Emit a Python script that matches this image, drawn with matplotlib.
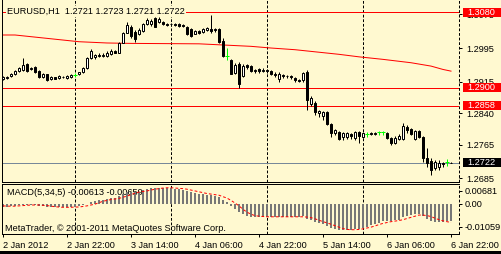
import matplotlib
matplotlib.use("Agg")
import matplotlib.pyplot as plt
import matplotlib.transforms as mtransforms
from matplotlib.patches import Rectangle

plt.rcParams["font.family"] = ["Liberation Sans", "DejaVu Sans"]
plt.rcParams["lines.scale_dashes"] = False

BG = "#FFF9D0"
FS = 6.6

# EURUSD H1 bars, 2 Jan 2012 06:00 .. 6 Jan 22:00
opens = [1.2921, 1.2924, 1.2928, 1.2933, 1.2940, 1.2943, 1.2957, 1.2945, 1.2950, 1.2940,
         1.2926, 1.2932, 1.2921, 1.2926, 1.2924, 1.2927, 1.2924, 1.2925, 1.2931, 1.2932,
         1.2937, 1.2947, 1.2971, 1.2974, 1.2976, 1.2977, 1.2976, 1.2981, 1.2988, 1.2983,
         1.3007, 1.3031, 1.3045, 1.3033, 1.3028, 1.3036, 1.3052, 1.3052, 1.3066, 1.3057,
         1.3058, 1.3052, 1.3051, 1.3052, 1.3051, 1.3050, 1.3046, 1.3040, 1.3029, 1.3035,
         1.3033, 1.3038, 1.3041, 1.3038, 1.3040, 1.3012, 1.2976, 1.2967, 1.2935, 1.2957,
         1.2928, 1.2955, 1.2952, 1.2940, 1.2945, 1.2941, 1.2943, 1.2940, 1.2933, 1.2921,
         1.2931, 1.2928, 1.2929, 1.2924, 1.2919, 1.2919, 1.2938, 1.2862, 1.2864, 1.2840,
         1.2833, 1.2843, 1.2814, 1.2793, 1.2795, 1.2783, 1.2783, 1.2791, 1.2781, 1.2795,
         1.2783, 1.2791, 1.2793, 1.2791, 1.2794, 1.2794, 1.2793, 1.2781, 1.2769, 1.2779,
         1.2779, 1.2807, 1.2802, 1.2779, 1.2798, 1.2783, 1.2733, 1.2726, 1.2709, 1.2712,
         1.2721, 1.2724, 1.2721]
highs = [1.2928, 1.2928, 1.2936, 1.2943, 1.2950, 1.2971, 1.2959, 1.2950, 1.2952, 1.2943,
         1.2936, 1.2933, 1.2928, 1.2927, 1.2931, 1.2929, 1.2931, 1.2933, 1.2936, 1.2938,
         1.2950, 1.2974, 1.2992, 1.2981, 1.2983, 1.2982, 1.2987, 1.2993, 1.2990, 1.3009,
         1.3034, 1.3057, 1.3050, 1.3038, 1.3043, 1.3055, 1.3066, 1.3064, 1.3070, 1.3069,
         1.3059, 1.3055, 1.3055, 1.3055, 1.3055, 1.3052, 1.3048, 1.3043, 1.3038, 1.3038,
         1.3043, 1.3045, 1.3073, 1.3043, 1.3043, 1.3019, 1.2995, 1.2968, 1.2959, 1.2962,
         1.2957, 1.2957, 1.2955, 1.2945, 1.2947, 1.2947, 1.2945, 1.2943, 1.2938, 1.2938,
         1.2933, 1.2931, 1.2931, 1.2926, 1.2921, 1.2938, 1.2943, 1.2881, 1.2869, 1.2848,
         1.2845, 1.2845, 1.2817, 1.2802, 1.2798, 1.2795, 1.2795, 1.2793, 1.2798, 1.2798,
         1.2795, 1.2795, 1.2795, 1.2795, 1.2798, 1.2798, 1.2795, 1.2783, 1.2785, 1.2790,
         1.2817, 1.2812, 1.2805, 1.2800, 1.2800, 1.2786, 1.2757, 1.2733, 1.2728, 1.2728,
         1.2724, 1.2731, 1.2723]
lows = [1.2919, 1.2921, 1.2926, 1.2931, 1.2938, 1.2940, 1.2938, 1.2943, 1.2936, 1.2924,
        1.2924, 1.2917, 1.2919, 1.2921, 1.2921, 1.2924, 1.2921, 1.2924, 1.2926, 1.2931,
        1.2936, 1.2946, 1.2970, 1.2970, 1.2974, 1.2974, 1.2974, 1.2978, 1.2983, 1.2983,
        1.3007, 1.3031, 1.3019, 1.3009, 1.3026, 1.3033, 1.3050, 1.3047, 1.3045, 1.3055,
        1.3050, 1.3047, 1.3047, 1.3047, 1.3045, 1.3045, 1.3026, 1.3021, 1.3028, 1.3028,
        1.3031, 1.3036, 1.3031, 1.3033, 1.3007, 1.2974, 1.2967, 1.2933, 1.2933, 1.2900,
        1.2926, 1.2945, 1.2938, 1.2936, 1.2936, 1.2938, 1.2936, 1.2931, 1.2926, 1.2914,
        1.2924, 1.2924, 1.2921, 1.2914, 1.2914, 1.2914, 1.2847, 1.2857, 1.2836, 1.2831,
        1.2824, 1.2812, 1.2783, 1.2788, 1.2776, 1.2776, 1.2778, 1.2779, 1.2776, 1.2769,
        1.2781, 1.2783, 1.2788, 1.2788, 1.2788, 1.2788, 1.2778, 1.2764, 1.2766, 1.2776,
        1.2776, 1.2793, 1.2788, 1.2776, 1.2781, 1.2724, 1.2712, 1.2693, 1.2705, 1.2705,
        1.2712, 1.2714, 1.2721]
closes = [1.2926, 1.2927, 1.2933, 1.2940, 1.2947, 1.2955, 1.2940, 1.2947, 1.2938, 1.2926,
          1.2933, 1.2919, 1.2926, 1.2922, 1.2928, 1.2925, 1.2928, 1.2931, 1.2931, 1.2937,
          1.2947, 1.2971, 1.2988, 1.2978, 1.2979, 1.2979, 1.2983, 1.2988, 1.2984, 1.3007,
          1.3031, 1.3050, 1.3024, 1.3017, 1.3038, 1.3052, 1.3062, 1.3059, 1.3045, 1.3064,
          1.3052, 1.3050, 1.3052, 1.3050, 1.3048, 1.3047, 1.3028, 1.3024, 1.3035, 1.3031,
          1.3040, 1.3043, 1.3035, 1.3040, 1.3009, 1.2976, 1.2976, 1.2933, 1.2955, 1.2909,
          1.2952, 1.2950, 1.2940, 1.2943, 1.2940, 1.2943, 1.2940, 1.2933, 1.2931, 1.2933,
          1.2928, 1.2929, 1.2926, 1.2919, 1.2917, 1.2936, 1.2871, 1.2876, 1.2843, 1.2845,
          1.2843, 1.2814, 1.2793, 1.2800, 1.2778, 1.2793, 1.2793, 1.2786, 1.2795, 1.2786,
          1.2793, 1.2791, 1.2791, 1.2793, 1.2794, 1.2794, 1.2781, 1.2769, 1.2781, 1.2786,
          1.2809, 1.2800, 1.2791, 1.2798, 1.2783, 1.2733, 1.2721, 1.2705, 1.2724, 1.2721,
          1.2719, 1.2724, 1.2722]

# red moving average, sampled along its length (bar index, price)
ma_bars = [0, 3, 7, 9, 13, 19, 26, 32, 49, 62, 67, 73, 78, 84, 89, 95, 102, 107, 110, 112]
ma_vals = [1.3026, 1.3026, 1.3022, 1.3020, 1.3016, 1.3010, 1.3007, 1.3006, 1.3005, 1.2999,
           1.2995, 1.2991, 1.2986, 1.2980, 1.2974, 1.2968, 1.2960, 1.2952, 1.2944, 1.2940]

# MACD(5,34,5): histogram (main) and signal
macd_main = [-0.0011, -0.0011, -0.0010, -0.0008, -0.0006, -0.0004, -0.0004, -0.0004, -0.0005, -0.0008,
             -0.0009, -0.0012, -0.0013, -0.0013, -0.0013, -0.0013, -0.0012, -0.0012, -0.0011, -0.0009,
             -0.0006, 0.0000, 0.0006, 0.0010, 0.0012, 0.0014, 0.0016, 0.0019, 0.0020, 0.0025,
             0.0032, 0.0041, 0.0042, 0.0041, 0.0042, 0.0046, 0.0051, 0.0054, 0.0053, 0.0055,
             0.0055, 0.0055, 0.0054, 0.0052, 0.0050, 0.0048, 0.0044, 0.0040, 0.0037, 0.0034,
             0.0032, 0.0030, 0.0030, 0.0028, 0.0022, 0.0012, 0.0004, -0.0010, -0.0018, -0.0030,
             -0.0038, -0.0042, -0.0045, -0.0046, -0.0046, -0.0046, -0.0046, -0.0046, -0.0047, -0.0046,
             -0.0046, -0.0046, -0.0046, -0.0047, -0.0047, -0.0044, -0.0052, -0.0057, -0.0063, -0.0067,
             -0.0071, -0.0077, -0.0084, -0.0088, -0.0091, -0.0092, -0.0092, -0.0091, -0.0089, -0.0087,
             -0.0084, -0.0080, -0.0076, -0.0071, -0.0067, -0.0062, -0.0060, -0.0060, -0.0058, -0.0056,
             -0.0048, -0.0043, -0.0040, -0.0038, -0.0038, -0.0044, -0.0052, -0.0060, -0.0063, -0.0063,
             -0.0063, -0.0062, -0.00613]
macd_signal = [-0.0008, -0.0009, -0.0009, -0.0009, -0.0008, -0.0007, -0.0006, -0.0005, -0.0005, -0.0005,
               -0.0006, -0.0007, -0.0009, -0.0011, -0.0012, -0.0013, -0.0013, -0.0013, -0.0012, -0.0012,
               -0.0010, -0.0008, -0.0005, -0.0002, 0.0003, 0.0008, 0.0011, 0.0014, 0.0016, 0.0018,
               0.0022, 0.0026, 0.0031, 0.0036, 0.0040, 0.0042, 0.0044, 0.0047, 0.0050, 0.0052,
               0.0054, 0.0055, 0.0055, 0.0054, 0.0053, 0.0052, 0.0050, 0.0047, 0.0044, 0.0041,
               0.0038, 0.0035, 0.0033, 0.0031, 0.0029, 0.0024, 0.0019, 0.0011, 0.0002, -0.0008,
               -0.0020, -0.0030, -0.0037, -0.0042, -0.0044, -0.0045, -0.0046, -0.0046, -0.0046, -0.0046,
               -0.0046, -0.0046, -0.0046, -0.0046, -0.0046, -0.0046, -0.0047, -0.0049, -0.0053, -0.0058,
               -0.0063, -0.0067, -0.0072, -0.0077, -0.0082, -0.0087, -0.0090, -0.0091, -0.0091, -0.0090,
               -0.0088, -0.0085, -0.0082, -0.0078, -0.0073, -0.0069, -0.0066, -0.0063, -0.0061, -0.0059,
               -0.0056, -0.0052, -0.0048, -0.0044, -0.0040, -0.0040, -0.0042, -0.0045, -0.0051, -0.0056,
               -0.0060, -0.0063, -0.00659]

level_lines = [1.3080, 1.2900, 1.2858]
bid = 1.2722
price_ticks = [1.3075, 1.2995, 1.2915, 1.2840, 1.2765, 1.2685]
separators = [18, 42, 66, 90, 114]  # midnight bars
time_ticks = [0, 16, 32, 48, 64, 80, 96, 112]
time_labels = ["2 Jan 2012", "2 Jan 22:00", "3 Jan 14:00", "4 Jan 06:00",
               "4 Jan 22:00", "5 Jan 14:00", "6 Jan 06:00", "6 Jan 22:00"]
macd_range = (-0.01059, 0.00681)

W, H = 502, 254
PX = 0.72  # one pixel in points


def box(x0, y0, x1, y1):
    return [x0 / W, 1 - y1 / H, (x1 - x0) / W, (y1 - y0) / H]


fig = plt.figure(figsize=(W / 100, H / 100), dpi=100, facecolor=BG)
ax = fig.add_axes(box(2, 0, 459, 182))
mx = fig.add_axes(box(2, 184, 459, 234), sharex=ax)

for a in (ax, mx):
    a.set_facecolor(BG)
    for s in a.spines.values():
        s.set_linewidth(PX)
        s.set_color("black")
    a.spines["right"].set_visible(False)
ax.spines["top"].set_visible(False)

ax.set_xlim(-0.25, 114)
ax.set_ylim(1.26761, 1.31093)
mx.set_ylim(*macd_range)

# candles
n = len(opens)
for i in range(n):
    o, h, l, c = opens[i], highs[i], lows[i], closes[i]
    if abs(o - c) < 1e-6:
        ax.vlines(i, l, h, color="#00FF00", lw=PX, zorder=3)
        ax.hlines(o, i - 0.45, i + 0.45, color="#00FF00", lw=PX, zorder=3)
        continue
    ax.vlines(i, l, h, color="black", lw=PX, zorder=3)
    ax.bar(i, abs(c - o), bottom=min(o, c), width=0.5,
           facecolor="white" if c > o else "black", edgecolor="black",
           linewidth=PX, zorder=4)

ax.plot(ma_bars, ma_vals, color="red", lw=PX, zorder=2)
for lv in level_lines:
    ax.axhline(lv, color="red", lw=PX, zorder=2)
ax.axhline(bid, color="#778899", lw=PX, zorder=2)

for a in (ax, mx):
    for s in separators:
        a.axvline(s, color="black", lw=PX, ls=(0, (2, 1.3)), zorder=1, clip_on=False)

# price scale
ax.yaxis.tick_right()
ax.set_yticks(price_ticks)
ax.set_yticklabels([f"{p:.4f}" for p in price_ticks])
ax.tick_params(axis="y", length=2.2, width=PX, pad=3.4, labelsize=FS)
ax.tick_params(axis="x", bottom=False, labelbottom=False)

blend = mtransforms.blended_transform_factory(ax.transAxes, ax.transData)
tag_h = 9 * (1.31093 - 1.26761) / 182
for lv, fc in [(v, "red") for v in level_lines] + [(bid, "black")]:
    ax.add_patch(Rectangle((1.0081, lv - tag_h / 2), 0.087, tag_h, transform=blend,
                           facecolor=fc, edgecolor="none", clip_on=False, zorder=6))
    ax.text(1.0175, lv, f"{lv:.4f}", transform=blend, color="white", fontsize=FS,
            va="center", ha="left", clip_on=False, zorder=7)

ax.text(0.011, 1 - 11.7 / 182, "EURUSD,H1  1.2721 1.2723 1.2721 1.2722",
        transform=ax.transAxes, fontsize=FS, va="center", ha="left", zorder=8,
        bbox=dict(facecolor=BG, edgecolor="none", pad=0.6))

# MACD pane
idx = list(range(n))
mx.bar(idx, macd_main, width=0.7, color="#777777", linewidth=0, zorder=2)
mx.plot(idx, macd_signal, color="red", lw=PX, ls=(0, (2, 1.5)), zorder=3)
mx.text(0.011, 1 - 8.3 / 50, "MACD(5,34,5) -0.00613 -0.00659", transform=mx.transAxes,
        fontsize=FS, va="center", ha="left", zorder=1)
mx.text(0.007, 1 - 44.3 / 50, "MetaTrader, \u00a9 2001-2011 MetaQuotes Software Corp.",
        transform=mx.transAxes, fontsize=FS, va="center", ha="left", zorder=4)

lo, hi = macd_range
span = hi - lo
m_ticks = [hi - span * 6.7 / 50, 0.0, lo + span * 7.3 / 50]
m_labels = [f"{hi:.5f}", "0.00", f"{lo:.5f}"]
mx.yaxis.tick_right()
mx.set_yticks(m_ticks)
mx.set_yticklabels(m_labels)
mx.tick_params(axis="y", length=2.2, width=PX, pad=2, labelsize=FS)

mx.set_xticks(time_ticks)
mx.set_xticklabels(time_labels)
mx.tick_params(axis="x", length=2.5, width=PX, pad=2.2, labelsize=FS)
for lab in mx.get_xticklabels():
    lab.set_ha("left")

fig.patches.append(Rectangle((0, 0), 1, 3 / H, transform=fig.transFigure,
                             facecolor="black", edgecolor="none"))

fig.savefig("out.png", dpi=100, facecolor=BG)
